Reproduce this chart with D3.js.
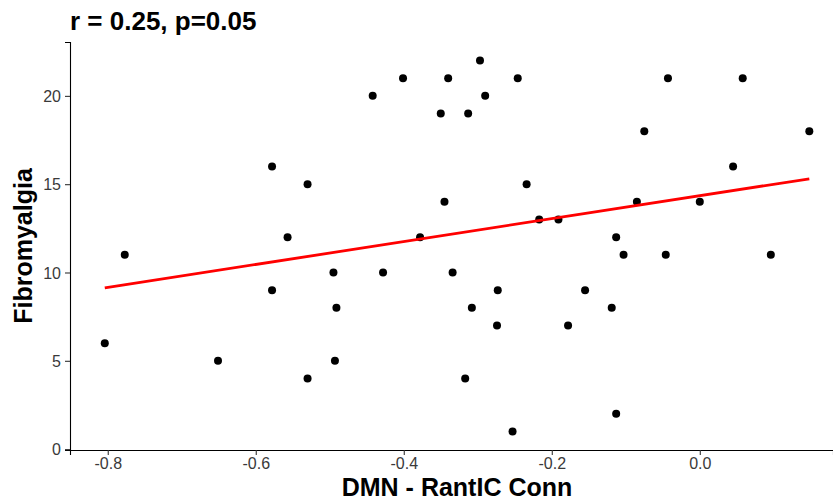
<!DOCTYPE html>
<html lang="en">
<head>
  <meta charset="UTF-8">
  <title>DMN - RantIC Conn vs Fibromyalgia</title>
  <script src="https://d3js.org/d3.v7.min.js"></script>
  <style>
    html, body { margin: 0; background: #fff; }
    svg { display: block; font-family: "Liberation Sans", Arial, sans-serif; }
    .title0 { font-size: 26px; font-weight: bold; fill: #000; }
    .axis-label { font-size: 25px; font-weight: bold; fill: #000; }
    .axis text { font-size: 16px; fill: #3a3a3a; font-family: "Liberation Sans", Arial, sans-serif; }
    .axis path { stroke: #000; stroke-width: 1.1px; }
    .axis line { stroke: #333; stroke-width: 1.1px; }
    .dot { fill: #000; }
  </style>
</head>
<body>
  <svg width="833" height="502"></svg>
  <script>
    // values
    const conn = [-0.804, -0.777, -0.651, -0.578, -0.578, -0.557, -0.530, -0.530, -0.495, -0.491,
                  -0.493, -0.442, -0.428, -0.401, -0.378, -0.350, -0.345, -0.340, -0.334, -0.317,
                  -0.313, -0.308, -0.297, -0.290, -0.273, -0.274, -0.253, -0.246, -0.234, -0.217,
                  -0.191, -0.178, -0.155, -0.119, -0.113, -0.113, -0.103, -0.085, -0.075, -0.046,
                  -0.043, 0.000, 0.045, 0.058, 0.096, 0.148];
    const fibro = [6, 11, 5, 16, 9, 12, 15, 4, 10, 8,
                   5, 20, 10, 21, 12, 19, 14, 21, 10, 4,
                   19, 8, 22, 20, 9, 7, 1, 21, 15, 13,
                   13, 7, 9, 8, 12, 2, 11, 14, 18, 11,
                   21, 14, 16, 21, 11, 18];
    const xTicks = [-0.8, -0.6, -0.4, -0.2, 0.0];
    const yTicks = [0, 5, 10, 15, 20];
    const titleText = "r = 0.25, p=0.05";

    const data = conn.map((c, i) => ({ x: c, y: fibro[i] }));

    const padL = 70, padR = 833, padT = 42, padB = 450;

    const svg = d3.select("svg");

    const xScale = d3.scaleLinear().domain([-0.851, 0.18]).range([padL, padR]);
    const yScale = d3.scaleLinear().domain([-0.05, 23.05]).range([padB, padT]);

    // least squares fit line
    const mx = d3.mean(conn), my = d3.mean(fibro);
    const slope = d3.sum(data, d => (d.x - mx) * (d.y - my)) / d3.sum(data, d => (d.x - mx) ** 2);
    const icpt = my - slope * mx;
    const [x0, x1] = d3.extent(conn);

    // plain hyphen for negatives, like R does
    const fmt = d => d.toFixed(1);

    const gx = svg.append("g")
       .attr("class", "axis")
       .attr("transform", `translate(0, ${padB})`)
       .call(d3.axisBottom(xScale).tickValues(xTicks).tickFormat(fmt).tickSizeOuter(0).tickSize(5).tickPadding(3));
    gx.selectAll("text").attr("dy", "0.7em");

    const gy = svg.append("g")
       .attr("class", "axis")
       .attr("transform", `translate(${padL}, 0)`)
       .call(d3.axisLeft(yScale).tickValues(yTicks).tickSizeOuter(0).tickSize(5).tickPadding(4));
    gy.selectAll("text").attr("dy", "0.35em");

    svg.selectAll(".dot")
       .data(data)
       .enter()
       .append("circle")
       .attr("class", "dot")
       .attr("cx", d => xScale(d.x))
       .attr("cy", d => yScale(d.y))
       .attr("r", 4);

    svg.append("line")
       .attr("x1", xScale(x0)).attr("y1", yScale(icpt + slope * x0))
       .attr("x2", xScale(x1)).attr("y2", yScale(icpt + slope * x1))
       .attr("stroke", "#ff0000")
       .attr("stroke-width", 2.8);

    svg.append("text")
       .attr("class", "title0")
       .attr("x", padL)
       .attr("y", 30)
       .text(titleText);

    svg.append("text")
       .attr("class", "axis-label")
       .attr("x", 457)
       .attr("y", 496)
       .style("text-anchor", "middle")
       .text("DMN - RantIC Conn");

    svg.append("text")
       .attr("class", "axis-label")
       .attr("transform", `translate(32, ${(padT + padB) / 2}) rotate(-90)`)
       .style("text-anchor", "middle")
       .text("Fibromyalgia");
  </script>
</body>
</html>
